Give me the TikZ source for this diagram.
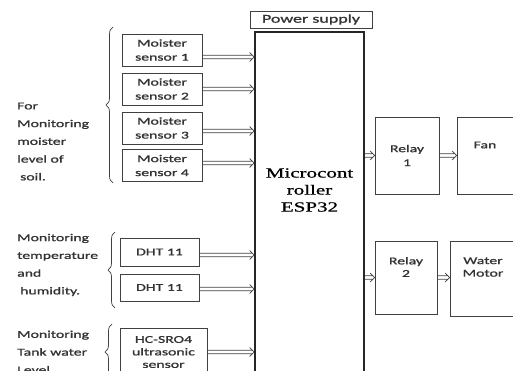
\documentclass[tikz,border=0pt]{standalone}
\usepackage{fontspec}
\setmainfont{Carlito}[FakeStretch=1.5,FakeBold=1.2]
\newfontfamily\espfont{Liberation Serif}[FakeStretch=1.5,FakeBold=0.8]
\usetikzlibrary{decorations.pathreplacing}
\definecolor{linegray}{HTML}{404040}
\definecolor{txtgray}{HTML}{333333}
\tikzset{
  blk/.style={draw=linegray, line width=0.8pt, inner sep=0pt, align=center, text=txtgray, font=\fontsize{10.5}{14}\selectfont},
  sideinfo/.style={anchor=west, align=left, text=txtgray, font=\fontsize{10.5}{17.75}\selectfont, inner sep=0pt},
  dblarrow/.style={draw=linegray, line width=0.7pt, line join=round, to path={
      ([yshift=1.7pt]\tikztostart) -- ([yshift=1.7pt, xshift=-2.5pt]\tikztotarget)
      ([yshift=-1.7pt]\tikztostart) -- ([yshift=-1.7pt, xshift=-2.5pt]\tikztotarget)
      ([xshift=-4.5pt, yshift=4.5pt]\tikztotarget) -- (\tikztotarget) -- ([xshift=-4.5pt, yshift=-4.5pt]\tikztotarget)}},
  bracer/.style={draw=linegray, line width=0.7pt, decorate, decoration={brace, amplitude=7pt, mirror}}
}
\begin{document}
\begin{tikzpicture}[x=1pt,y=-1pt]
\useasboundingbox (0,0) rectangle (513,371);
\clip (0,0) rectangle (513,371);

\node[blk, minimum width=122, minimum height=17, font=\fontsize{12}{14}\selectfont] (power) at (311,19.5) {Power supply};
\node[blk, line width=1.6pt, draw=black!85, minimum width=109, minimum height=368] (mcu) at (309.5,216) {};
\node[text=black, font=\espfont\fontsize{14}{17}\selectfont, align=center] (mcutxt) at (309.5,190) {Microcont\\roller\\ESP32};

\foreach \n/\y in {1/50,2/89,3/128,4/165.5}
     \node[blk, minimum width=80, minimum height=32] (s\n) at (162,\y) {Moister\\sensor \n};
\foreach \n/\d in {1/-7,2/0,3/-3,4/2.5}
     \draw[dblarrow] ([yshift=\d]s\n.east) to ([yshift=\d]s\n.east -| mcu.west);

\node[blk, minimum width=79, minimum height=28] (d1) at (159.5,252) {DHT 11};
\node[blk, minimum width=79, minimum height=27] (d2) at (159.5,287.5) {DHT 11};
\draw[dblarrow] ([yshift=-3]d1.east) to ([yshift=-3]d1.east -| mcu.west);
\draw[dblarrow] ([yshift=-1.5]d2.east) to ([yshift=-1.5]d2.east -| mcu.west);

\node[blk, minimum width=87, minimum height=48, font=\fontsize{10.5}{12.5}\selectfont] (hc) at (163.5,352) {HC-SRO4\\ultrasonic\\sensor};
\draw[dblarrow] (hc.east) to (hc.east -| mcu.west);

\node[blk, minimum width=64, minimum height=77] (r1) at (407,155.5) {Relay\\1};
\node[blk, minimum width=63, minimum height=77] (fan) at (488.5,155.5) {};
\node[text=txtgray, font=\fontsize{10.5}{14}\selectfont] (fanlbl) at (485,145) {Fan};
\node[blk, minimum width=62, minimum height=73] (r2) at (406,277.5) {};
\node[text=txtgray, font=\fontsize{10.5}{12.5}\selectfont, align=center] (r2lbl) at (406,267) {Relay\\2};
\node[blk, minimum width=70, minimum height=75] (motor) at (485,278.5) {};
\node[text=txtgray, font=\fontsize{10.5}{12.5}\selectfont, align=center] (motorlbl) at (483,267) {Water\\Motor};

\draw[dblarrow] (r1.west -| mcu.east) to (r1.west);
\draw[dblarrow] (r1.east) to (r1.east -| fan.west);
\draw[dblarrow] (r2.west -| mcu.east) to (r2.west);
\draw[dblarrow] (r2.east) to (r2.east -| motor.west);

\draw[bracer] (113,27) -- (113,183);
\draw[bracer] (115,232) -- (115,308);
\draw[bracer] (112,324) -- (112,380);

\node[sideinfo] (soilinfo) at (17,141.5) {For\\Monitoring\\moister\\level of\\\hspace{3pt}soil.};
\node[sideinfo] (climateinfo) at (17,265) {Monitoring\\temperature\\and\\\hspace{3pt}humidity.};
\node[sideinfo] (tankinfo) at (17,352) {Monitoring\\Tank water\\Level.};

\end{tikzpicture}
\end{document}
